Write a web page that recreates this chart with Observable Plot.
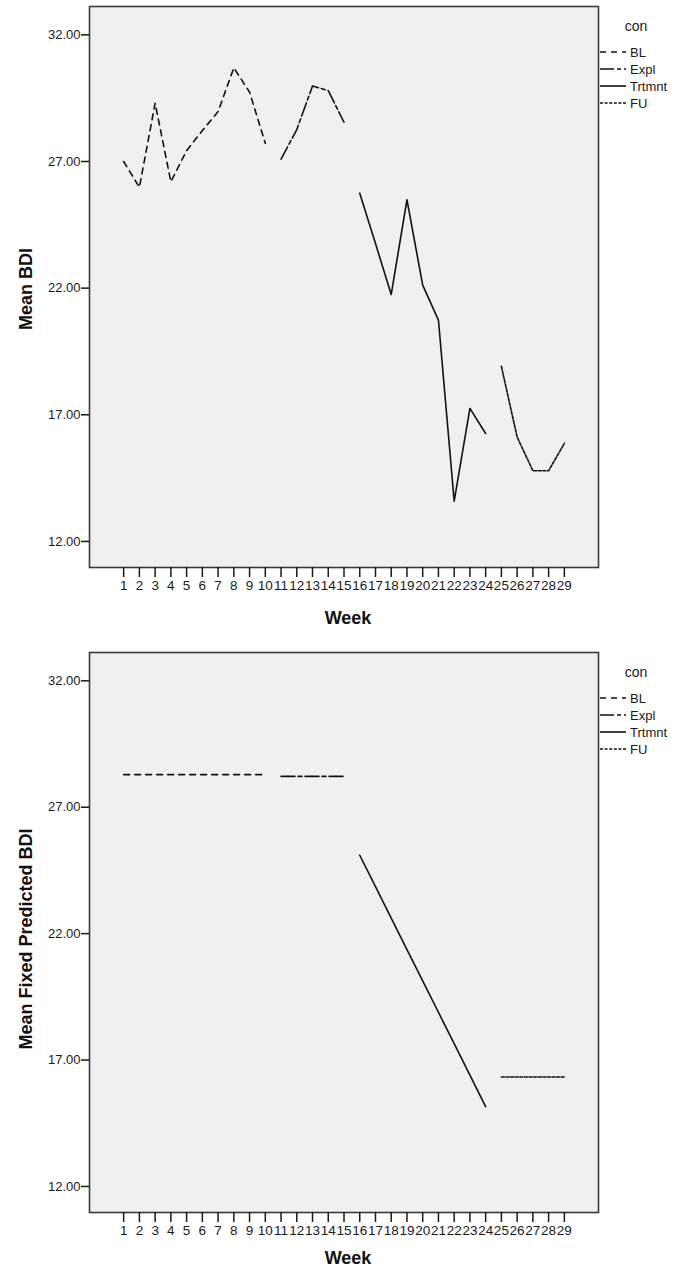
<!DOCTYPE html>
<html><head><meta charset="utf-8">
<script src="https://cdn.jsdelivr.net/npm/d3@7"></script>
<script src="https://cdn.jsdelivr.net/npm/@observablehq/plot@0.6"></script>
<style>
body{margin:0;background:#fff;}
#charts{width:683px;}
#charts svg{display:block;}
</style></head><body><div id="charts"></div>
<script>
const weeks = [1,2,3,4,5,6,7,8,9,10,11,12,13,14,15,16,17,18,19,20,21,22,23,24,25,26,27,28,29];
const phase = ["BL","BL","BL","BL","BL","BL","BL","BL","BL","BL",
               "Expl","Expl","Expl","Expl","Expl",
               "Trtmnt","Trtmnt","Trtmnt","Trtmnt","Trtmnt","Trtmnt","Trtmnt","Trtmnt","Trtmnt",
               "FU","FU","FU","FU","FU"];
const conditions = ["BL","Expl","Trtmnt","FU"];
const meanBDI = [27.0, 25.98, 29.3, 26.2, 27.43, 28.22, 28.97, 30.7, 29.74, 27.72,
                 27.09, 28.26, 29.98, 29.8, 28.55,
                 25.75, 23.76, 21.75, 25.49, 22.12, 20.74, 13.59, 17.25, 16.26,
                 18.91, 16.12, 14.79, 14.79, 15.87];
const predictedBDI = [28.29, 28.29, 28.29, 28.29, 28.29, 28.29, 28.29, 28.29, 28.29, 28.29,
                      28.22, 28.22, 28.22, 28.22, 28.22,
                      25.10, 23.86, 22.61, 21.37, 20.13, 18.89, 17.65, 16.40, 15.16,
                      16.33, 16.33, 16.33, 16.33, 16.33];
const yTicks = [12, 17, 22, 27, 32];
const legendTitle = "con";
const xLabel = "Week";
const dashes = {BL: "6,5", Expl: "14,3,4,3", Trtmnt: null, FU: "3,1.6"};
const font = "'Liberation Sans', Arial, Helvetica, sans-serif";

function chart({values, ylabel, height, marginTop, marginBottom, weekY, ylabelY}) {
  const rows = weeks.map((w, i) => ({week: w, con: phase[i], value: values[i]}));
  const svg = Plot.plot({
    width: 683, height, marginTop, marginBottom, marginLeft: 89, marginRight: 85,
    style: {fontFamily: font, fontSize: "13px", background: "#fff", color: "#1a1a1a"},
    x: {domain: [-1.17, 31.17]},
    y: {domain: [10.97, 33.12]},
    marks: [
      Plot.frame({fill: "#f0f0f0", stroke: null}),
      ...conditions.map(c => Plot.line(rows.filter(r => r.con === c), {
        x: "week", y: "value", stroke: "#111", strokeWidth: 1.6,
        strokeDasharray: dashes[c] || undefined
      })),
      Plot.frame({stroke: "#3a3a3a", strokeWidth: 1.6}),
      Plot.axisX({ticks: weeks, tickSize: 10, tickPadding: 3, tickFormat: d => String(d), label: null,
                  strokeWidth: 1.5, fontSize: 13.5, fill: "#1a1a1a"}),
      Plot.axisY({ticks: yTicks, tickSize: 8, tickPadding: 1, tickFormat: d => d.toFixed(2), label: null,
                  strokeWidth: 1.5, fontSize: 13, fill: "#1a1a1a"})
    ]
  });
  const s = d3.select(svg);
  const txt = (sel, size, weight, anchor) => sel
    .attr("text-anchor", anchor)
    .style("font-family", font).style("font-size", size + "px").style("font-weight", weight);
  txt(s.append("text").attr("x", 348).attr("y", weekY).attr("dy", "0.35em"), 18, "bold", "middle")
    .attr("fill", "#111").text(xLabel);
  txt(s.append("text").attr("transform", `translate(32,${ylabelY}) rotate(-90)`), 18, "bold", "middle")
    .attr("fill", "#111").text(ylabel);
  const lg = s.append("g").attr("fill", "#1a1a1a");
  txt(lg.append("text").attr("x", 636).attr("y", marginTop + 20).attr("dy", "0.35em"), 14, "normal", "middle")
    .text(legendTitle);
  conditions.forEach((c, i) => {
    const y = marginTop + 46 + i * 17;
    lg.append("line").attr("x1", 600).attr("x2", 626).attr("y1", y).attr("y2", y)
      .attr("stroke", "#111").attr("stroke-width", 1.6)
      .attr("stroke-dasharray", dashes[c] || null);
    txt(lg.append("text").attr("x", 630).attr("y", y).attr("dy", "0.35em"), 13, "normal", "start").text(c);
  });
  return svg;
}

const root = document.getElementById("charts");
root.appendChild(chart({values: meanBDI, ylabel: "Mean BDI", height: 640, marginTop: 6, marginBottom: 73, weekY: 618, ylabelY: 289}));
root.appendChild(chart({values: predictedBDI, ylabel: "Mean Fixed Predicted BDI", height: 631, marginTop: 12, marginBottom: 59, weekY: 618, ylabelY: 299}));
</script></body></html>
